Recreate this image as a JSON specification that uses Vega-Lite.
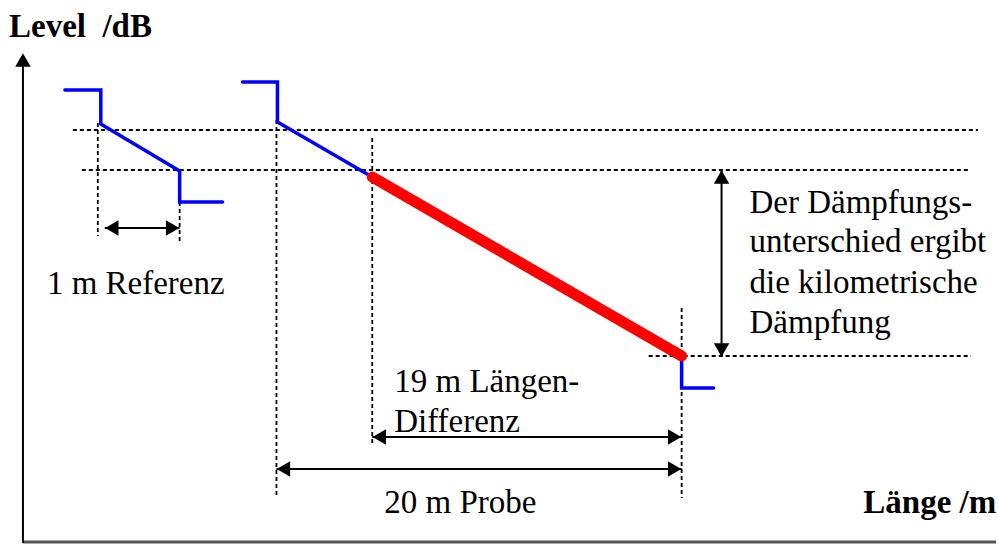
{
  "$schema": "https://vega.github.io/schema/vega-lite/v6.json",
  "width": 998,
  "height": 545,
  "autosize": {"type": "fit", "contains": "padding"},
  "padding": 0,
  "background": "white",
  "config": {"view": {"stroke": null}},
  "datasets": {
    "dotted": [
      {"x": 73, "y": 130, "x2": 980, "y2": 130},
      {"x": 82, "y": 170, "x2": 970, "y2": 170},
      {"x": 650, "y": 356, "x2": 973, "y2": 356},
      {"x": 98, "y": 123, "x2": 98, "y2": 236},
      {"x": 180, "y": 202, "x2": 180, "y2": 242},
      {"x": 277, "y": 120, "x2": 277, "y2": 495},
      {"x": 373, "y": 138, "x2": 373, "y2": 445},
      {"x": 683, "y": 308, "x2": 683, "y2": 498}
    ],
    "blue": [
      {"trace": "ref", "i": 0, "x": 65, "y": 90},
      {"trace": "ref", "i": 1, "x": 101, "y": 90},
      {"trace": "ref", "i": 2, "x": 101, "y": 124},
      {"trace": "ref", "i": 3, "x": 180, "y": 171},
      {"trace": "ref", "i": 4, "x": 180, "y": 202},
      {"trace": "ref", "i": 5, "x": 223, "y": 202},
      {"trace": "probe", "i": 0, "x": 243, "y": 82},
      {"trace": "probe", "i": 1, "x": 278, "y": 82},
      {"trace": "probe", "i": 2, "x": 278, "y": 122},
      {"trace": "probe", "i": 3, "x": 373, "y": 177},
      {"trace": "tail", "i": 0, "x": 683, "y": 356},
      {"trace": "tail", "i": 1, "x": 683, "y": 388},
      {"trace": "tail", "i": 2, "x": 715, "y": 388}
    ],
    "red": [{"x": 373, "y": 177, "x2": 683, "y2": 356}],
    "shafts": [
      {"x": 105, "y": 228, "x2": 180, "y2": 228},
      {"x": 373, "y": 437, "x2": 683, "y2": 437},
      {"x": 277, "y": 469, "x2": 683, "y2": 469},
      {"x": 723, "y": 170, "x2": 723, "y2": 357},
      {"x": 23, "y": 62, "x2": 23, "y2": 543}
    ],
    "heads": [
      {"dir": "left", "x": 105, "y": 228},
      {"dir": "right", "x": 180, "y": 228},
      {"dir": "left", "x": 373, "y": 437},
      {"dir": "right", "x": 683, "y": 437},
      {"dir": "left", "x": 277, "y": 469},
      {"dir": "right", "x": 683, "y": 469},
      {"dir": "up", "x": 723, "y": 170},
      {"dir": "down", "x": 723, "y": 357},
      {"dir": "up", "x": 23, "y": 53}
    ],
    "normalText": [
      {"label": "1 m Referenz", "x": 47, "y": 294},
      {"label": "Der Dämpfungs-", "x": 751, "y": 213},
      {"label": "unterschied ergibt", "x": 751, "y": 252},
      {"label": "die kilometrische", "x": 751, "y": 293},
      {"label": "Dämpfung", "x": 751, "y": 333},
      {"label": "19 m Längen-", "x": 395, "y": 392},
      {"label": "Differenz", "x": 395, "y": 432},
      {"label": "20 m Probe", "x": 385, "y": 513}
    ],
    "boldText": [
      {"label": "Level\u00a0\u00a0/dB", "x": 9, "y": 37},
      {"label": "Länge /m", "x": 865, "y": 513}
    ]
  },
  "encoding": {
    "x": {"field": "x", "type": "quantitative", "scale": {"domain": [0, 998], "nice": false, "zero": false}, "axis": null},
    "y": {"field": "y", "type": "quantitative", "scale": {"domain": [0, 545], "nice": false, "zero": false, "reverse": true}, "axis": null}
  },
  "layer": [
    {
      "data": {"values": [{"x": 23, "y": 542, "x2": 998, "y2": 542}]},
      "mark": {"type": "rule", "color": "#555555", "strokeWidth": 3},
      "encoding": {"x2": {"field": "x2"}, "y2": {"field": "y2"}}
    },
    {
      "data": {"name": "dotted"},
      "mark": {"type": "rule", "color": "black", "strokeWidth": 1.8, "strokeDash": [4, 3]},
      "encoding": {"x2": {"field": "x2"}, "y2": {"field": "y2"}}
    },
    {
      "data": {"name": "blue"},
      "mark": {"type": "line", "color": "#0000ff", "strokeWidth": 3.5, "strokeCap": "round", "strokeJoin": "miter"},
      "encoding": {"detail": {"field": "trace"}, "order": {"field": "i", "type": "quantitative"}}
    },
    {
      "data": {"name": "red"},
      "mark": {"type": "rule", "color": "#ff0000", "strokeWidth": 11, "strokeCap": "round"},
      "encoding": {"x2": {"field": "x2"}, "y2": {"field": "y2"}}
    },
    {
      "data": {"name": "shafts"},
      "mark": {"type": "rule", "color": "black", "strokeWidth": 2},
      "encoding": {"x2": {"field": "x2"}, "y2": {"field": "y2"}}
    },
    {
      "data": {"name": "heads"},
      "transform": [{"filter": "datum.dir === 'left'"}],
      "mark": {"type": "point", "shape": "triangle-left", "filled": true, "color": "black", "opacity": 1, "size": 240, "xOffset": 7}
    },
    {
      "data": {"name": "heads"},
      "transform": [{"filter": "datum.dir === 'right'"}],
      "mark": {"type": "point", "shape": "triangle-right", "filled": true, "color": "black", "opacity": 1, "size": 240, "xOffset": -7}
    },
    {
      "data": {"name": "heads"},
      "transform": [{"filter": "datum.dir === 'up'"}],
      "mark": {"type": "point", "shape": "triangle-up", "filled": true, "color": "black", "opacity": 1, "size": 240, "yOffset": 7}
    },
    {
      "data": {"name": "heads"},
      "transform": [{"filter": "datum.dir === 'down'"}],
      "mark": {"type": "point", "shape": "triangle-down", "filled": true, "color": "black", "opacity": 1, "size": 240, "yOffset": -7}
    },
    {
      "data": {"name": "normalText"},
      "mark": {"type": "text", "font": "Liberation Serif", "fontSize": 33, "align": "left", "baseline": "alphabetic", "color": "black"},
      "encoding": {"text": {"field": "label"}}
    },
    {
      "data": {"name": "boldText"},
      "mark": {"type": "text", "font": "Liberation Serif", "fontSize": 33, "fontWeight": "bold", "align": "left", "baseline": "alphabetic", "color": "black"},
      "encoding": {"text": {"field": "label"}}
    }
  ]
}
